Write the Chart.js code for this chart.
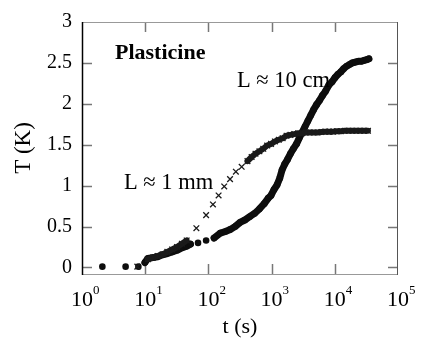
<!DOCTYPE html>
<html>
<head>
<meta charset="utf-8">
<script src="https://cdn.jsdelivr.net/npm/chart.js@4.4.1/dist/chart.umd.min.js"></script>
<style>
  html, body { margin: 0; padding: 0; background: #fff; }
</style>
</head>
<body>
<canvas id="chart" width="422" height="338"></canvas>
<script>
// L ~ 10 cm sample (filled dots), time in s, temperature rise in K
const tCm = [2.1, 4.9, 7.8, 9.9, 11, 13.2, 15.7, 18.8, 22.4, 26.7, 31.9, 38, 45.3, 52,
  68.5, 92, 123, 155,
  186, 222, 265, 316, 378, 450, 537, 641, 765, 881, 979, 1088, 1222, 1345, 1462, 1606,
  1785, 1984, 2206, 2478, 2729, 3033, 3370, 3747, 4165, 4629, 5148, 5724, 6365, 7080,
  8060, 9060, 10070, 11200, 12450, 13840, 15390, 17100, 19010, 21140, 23500, 26120,
  29040, 32290, 34670];
const TCm = [0.01, 0.01, 0.01, 0.06, 0.11, 0.12, 0.13, 0.155, 0.17, 0.19, 0.21, 0.24, 0.26, 0.285,
  0.30, 0.33, 0.36, 0.42,
  0.44, 0.465, 0.50, 0.55, 0.58, 0.62, 0.66, 0.715, 0.78, 0.845, 0.88, 0.95, 1.01, 1.09, 1.19, 1.26,
  1.32, 1.39, 1.45, 1.51, 1.58, 1.65, 1.72, 1.79, 1.86, 1.93, 1.99, 2.04, 2.10, 2.15,
  2.23, 2.27, 2.32, 2.36, 2.39, 2.43, 2.46, 2.48, 2.50, 2.51, 2.52, 2.52,
  2.53, 2.54, 2.55];

// L ~ 1 mm sample (crosses)
const tMm = [7.5, 11, 13.2, 15.7, 18.8, 22.4, 26.7, 31.9, 38, 45.3,
  64.5, 92, 118, 145, 178, 220, 272, 336, 415,
  483, 556, 641, 738, 850, 979, 1127, 1298, 1495, 1722, 1984, 2285, 2632, 3032, 3492,
  4022, 4633, 5336, 6146, 7080, 8150, 9380, 10810, 12450, 14330, 16510, 19010, 21880,
  25230, 29040, 33470];
const TMm = [0.01, 0.10, 0.12, 0.14, 0.16, 0.19, 0.22, 0.25, 0.29, 0.33,
  0.48, 0.64, 0.77, 0.88, 0.99, 1.08, 1.17, 1.23, 1.30,
  1.35, 1.39, 1.42, 1.45, 1.49, 1.51, 1.54, 1.56, 1.58, 1.61, 1.62, 1.63, 1.64, 1.64, 1.65,
  1.65, 1.65, 1.65, 1.655, 1.66, 1.66, 1.66, 1.665, 1.665, 1.67, 1.67, 1.67, 1.67,
  1.67, 1.67, 1.67];

const xTicks = [1, 10, 100, 1000, 10000, 100000];
const xExponents = ['0', '1', '2', '3', '4', '5'];
const yTicks = [0, 0.5, 1, 1.5, 2, 2.5, 3];

const serif = "'Liberation Serif', 'Times New Roman', serif";

function toPoints(xs, ys) {
  return xs.map((v, i) => ({ x: v, y: ys[i] }));
}

// dense runs of the record look like a solid thick trace: join neighbours that sit close on screen
function joinClose(gap, color) {
  return ctx => Math.abs(ctx.p1.x - ctx.p0.x) < gap ? color : 'rgba(0,0,0,0)';
}

const decor = {
  id: 'decor',
  beforeDatasetsDraw(chart) {
    const { ctx, chartArea: a, scales: { x, y } } = chart;
    const seg = (x0, y0, x1, y1) => { ctx.beginPath(); ctx.moveTo(x0, y0); ctx.lineTo(x1, y1); ctx.stroke(); };
    ctx.save();
    ctx.lineWidth = 1.5;
    ctx.strokeStyle = '#777';
    yTicks.forEach(v => {
      if (v <= y.min || v >= y.max) return;
      const py = Math.round(y.getPixelForValue(v)) + 0.5;
      seg(a.left, py, a.left + 10, py);
      seg(a.right - 10, py, a.right, py);
    });
    xTicks.forEach(v => {
      if (v <= x.min || v >= x.max) return;
      const px = Math.round(x.getPixelForValue(v)) + 0.5;
      seg(px, a.bottom, px, a.bottom - 10);
      seg(px, a.top, px, a.top + 10);
    });
    ctx.lineWidth = 1;
    ctx.strokeStyle = '#999';
    seg(a.left, a.top + 0.5, a.right, a.top + 0.5);
    seg(a.left, a.bottom + 0.5, a.right, a.bottom + 0.5);
    ctx.strokeStyle = '#555';
    seg(a.right - 0.5, a.top, a.right - 0.5, a.bottom + 1);
    ctx.lineWidth = 1.5;
    ctx.strokeStyle = '#000';
    seg(a.left + 0.5, a.top, a.left + 0.5, a.bottom + 1);
    ctx.restore();
  },
  afterDraw(chart) {
    const { ctx, chartArea: a, scales: { x } } = chart;
    ctx.save();
    ctx.fillStyle = '#000';
    // exponents of the decade labels
    ctx.font = '13px ' + serif;
    ctx.textAlign = 'left';
    ctx.textBaseline = 'middle';
    xTicks.forEach((v, i) => {
      const px = x.getPixelForValue(v);
      ctx.fillText(xExponents[i], px + 11, a.bottom + 17);
    });
    // in-plot labels
    ctx.textBaseline = 'alphabetic';
    ctx.font = 'bold 22px ' + serif;
    ctx.fillText('Plasticine', 115, 59);
    ctx.font = '22.5px ' + serif;
    ctx.fillText('L \u2248 10 cm', 237, 87);
    ctx.fillText('L \u2248 1 mm', 124, 188.5);
    ctx.restore();
  }
};

new Chart(document.getElementById('chart'), {
  type: 'scatter',
  data: {
    datasets: [
      {
        label: 'L \u2248 1 mm',
        data: toPoints(tMm, TMm),
        showLine: true,
        borderWidth: 6,
        borderCapStyle: 'round',
        borderJoinStyle: 'round',
        segment: { borderColor: joinClose(5.2, '#1a1a1a') },
        pointStyle: 'crossRot',
        pointRadius: 4,
        pointBorderWidth: 1.3,
        pointBorderColor: '#1a1a1a',
        pointBackgroundColor: '#1a1a1a'
      },
      {
        label: 'L \u2248 10 cm',
        data: toPoints(tCm, TCm),
        showLine: true,
        borderWidth: 7,
        borderCapStyle: 'round',
        borderJoinStyle: 'round',
        segment: { borderColor: joinClose(6.5, '#0d0d0d') },
        pointStyle: 'circle',
        pointRadius: 3.3,
        pointBorderWidth: 0,
        pointBackgroundColor: '#0d0d0d'
      }
    ]
  },
  options: {
    responsive: false,
    animation: false,
    layout: { padding: { top: 15, right: 14, left: 0, bottom: 0 } },
    plugins: {
      legend: { display: false },
      tooltip: { enabled: false }
    },
    scales: {
      x: {
        type: 'logarithmic',
        min: 1,
        max: 100000,
        grid: { display: false, drawTicks: false },
        border: { display: false },
        afterBuildTicks: s => { s.ticks = xTicks.map(v => ({ value: v })); },
        afterFit: s => { s.height = 64; },
        ticks: {
          autoSkip: false,
          maxRotation: 0,
          padding: 13,
          color: '#000',
          font: { family: serif, size: 22 },
          callback: () => '10'
        },
        title: {
          display: true,
          text: 't (s)',
          color: '#000',
          font: { family: serif, size: 22 },
          padding: { top: 0, bottom: -2 }
        }
      },
      y: {
        min: -0.08,
        max: 3,
        grid: { display: false, drawTicks: false },
        border: { display: false },
        afterBuildTicks: s => { s.ticks = yTicks.map(v => ({ value: v })); },
        afterFit: s => { s.width = 82; },
        ticks: {
          padding: 10,
          color: '#000',
          font: { family: serif, size: 20 },
          callback: v => String(v)
        },
        title: {
          display: true,
          text: 'T (K)',
          color: '#000',
          font: { family: serif, size: 23 },
          padding: { top: 10, bottom: 0 }
        }
      }
    }
  },
  plugins: [decor]
});
</script>
</body>
</html>
